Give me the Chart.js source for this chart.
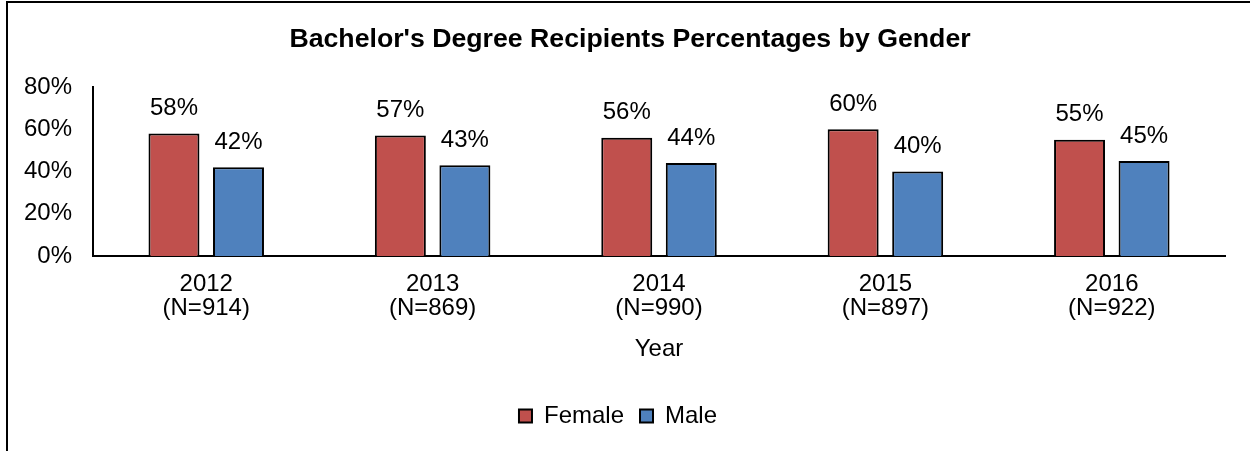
<!DOCTYPE html>
<html>
<head>
<meta charset="utf-8">
<script src="https://cdn.jsdelivr.net/npm/chart.js@4"></script>
<style>
  html, body { margin: 0; padding: 0; background: #fff; }
  #wrap { position: relative; width: 1253px; height: 451px; }
  #frame { position: absolute; left: 6px; top: 1px; right: 3px; bottom: -4px;
           border-left: 2px solid #000; border-top: 2px solid #000; pointer-events: none; }
</style>
</head>
<body>
<div id="wrap">
  <canvas id="genderChart" width="1253" height="451"></canvas>
  <div id="frame"></div>
</div>
<script>
// Year labels with cohort size underneath
const years = ['2012', '2013', '2014', '2015', '2016'];
const cohortSizes = [914, 869, 990, 897, 922];
const femalePct = [58, 57, 56, 60, 55];
const malePct = [42, 43, 44, 40, 45];
const yTicks = [0, 20, 40, 60, 80];

const labels = years.map((y, i) => [y, '(N=' + cohortSizes[i] + ')']);

const FONT = '"Liberation Sans", Arial, sans-serif';
Chart.defaults.font.family = FONT;
Chart.defaults.color = '#000';

// Draw the percentage above every bar
const barValueLabels = {
  id: 'barValueLabels',
  afterDatasetsDraw(chart) {
    const ctx = chart.ctx;
    ctx.save();
    ctx.font = '24px ' + FONT;
    ctx.fillStyle = '#000';
    ctx.textAlign = 'center';
    ctx.textBaseline = 'middle';
    chart.data.datasets.forEach((ds, di) => {
      chart.getDatasetMeta(di).data.forEach((bar, i) => {
        ctx.fillText(ds.data[i] + '%', bar.x, bar.y - 25);
      });
    });
    ctx.restore();
  }
};

// Centre the title on the whole frame instead of the padded layout box
const titleCentering = {
  id: 'titleCentering',
  afterLayout(chart) {
    if (chart.titleBlock) {
      chart.titleBlock.left = 7;
      chart.titleBlock.right = chart.width;
    }
  }
};

new Chart(document.getElementById('genderChart'), {
  type: 'bar',
  data: {
    labels: labels,
    datasets: [
      {
        label: 'Female',
        data: femalePct,
        backgroundColor: '#C0504D',
        borderColor: '#000',
        borderWidth: 2,
        barPercentage: 0.79,
        categoryPercentage: 0.57
      },
      {
        label: 'Male',
        data: malePct,
        backgroundColor: '#4F81BD',
        borderColor: '#000',
        borderWidth: 2,
        barPercentage: 0.79,
        categoryPercentage: 0.57
      }
    ]
  },
  options: {
    responsive: false,
    animation: false,
    layout: { padding: { left: 11, right: 28, top: 24, bottom: 13 } },
    plugins: {
      title: {
        display: true,
        text: "Bachelor's Degree Recipients Percentages by Gender",
        font: { size: 26.7, weight: 'bold' },
        padding: { top: 0, bottom: 31 }
      },
      legend: {
        position: 'bottom',
        labels: {
          font: { size: 24 },
          boxWidth: 13,
          boxHeight: 13,
          padding: 16
        }
      },
      tooltip: { enabled: false }
    },
    scales: {
      x: {
        grid: { display: false },
        border: { display: true, color: '#000', width: 2 },
        ticks: { font: { size: 24, lineHeight: 1 }, padding: 8 },
        title: { display: true, text: 'Year', font: { size: 24, lineHeight: 1 }, padding: { top: 9, bottom: 27 } }
      },
      y: {
        min: yTicks[0],
        max: yTicks[yTicks.length - 1],
        grid: { display: false },
        border: { display: true, color: '#000', width: 2 },
        afterBuildTicks(axis) { axis.ticks = yTicks.map(v => ({ value: v })); },
        ticks: {
          font: { size: 24 },
          padding: 13,
          callback: v => v + '%'
        }
      }
    }
  },
  plugins: [barValueLabels, titleCentering]
});
</script>
</body>
</html>
